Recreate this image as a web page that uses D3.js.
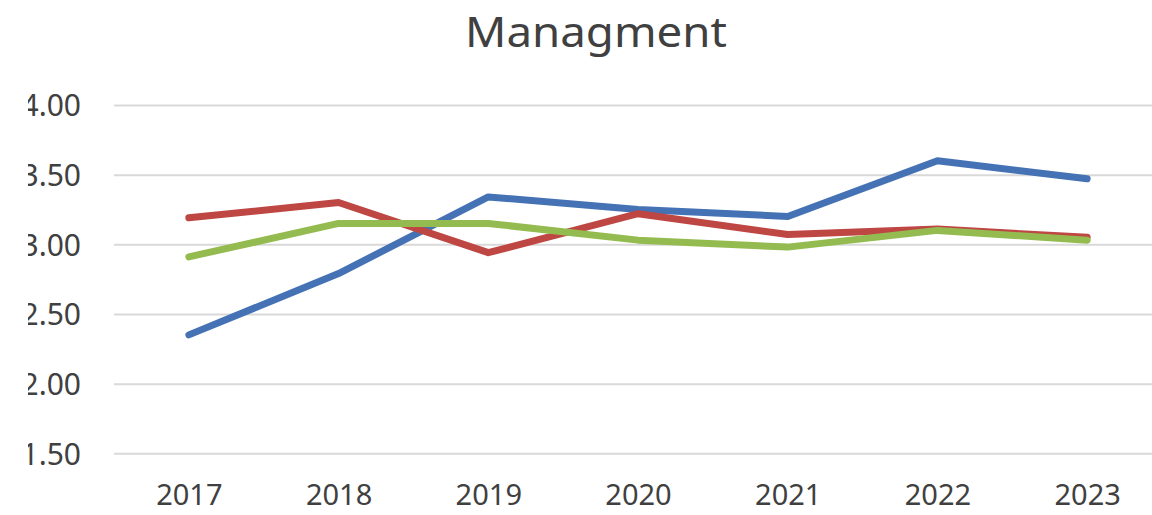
<!DOCTYPE html>
<html>
<head>
<meta charset="utf-8">
<script src="https://cdn.jsdelivr.net/npm/d3@7"></script>
<style>
    body { margin: 0; background: #fff; }
    svg { display: block; }
    text { font-family: "Noto Sans", "Open Sans", sans-serif; fill: #404040; }
</style>
</head>
<body>
<script>
// chart data
const years = ["2017", "2018", "2019", "2020", "2021", "2022", "2023"];
const blueValues = [2.35, 2.79, 3.34, 3.25, 3.20, 3.60, 3.47];
const redValues = [3.19, 3.30, 2.94, 3.22, 3.07, 3.11, 3.05];
const greenValues = [2.91, 3.15, 3.15, 3.03, 2.98, 3.10, 3.03];
const yTicks = [1.5, 2.0, 2.5, 3.0, 3.5, 4.0];
const title = "Managment";

const width = 1152, height = 515;
const plot = { left: 114, right: 1162, top: 105, bottom: 453.3 };

const svg = d3.select("body").append("svg")
    .attr("width", width)
    .attr("height", height);

const xScale = d3.scalePoint()
    .domain(years)
    .range([plot.left, plot.right])
    .padding(0.5);

const yScale = d3.scaleLinear()
    .domain([1.5, 4])
    .range([plot.bottom, plot.top]);

// title
svg.append("text")
    .attr("x", 596)
    .attr("y", 47)
    .attr("text-anchor", "middle")
    .style("font-size", "41px")
    .attr("textLength", 262)
    .attr("lengthAdjust", "spacingAndGlyphs")
    .text(title);

// gridlines
svg.append("g")
    .attr("class", "grid")
    .attr("transform", "translate(" + plot.left + ",0)")
    .call(d3.axisLeft(yScale).tickValues(yTicks).tickSize(-(width - plot.left)).tickFormat(""))
    .call(g => g.select(".domain").remove())
    .call(g => g.selectAll("line").attr("stroke", "#d9d9d9").attr("stroke-width", 2));

// y labels, the left edge is cut off like in the picture
svg.append("clipPath")
    .attr("id", "ylabclip")
    .append("rect")
    .attr("x", 28).attr("y", 0).attr("width", 100).attr("height", height);

const yAxis = svg.append("g")
    .attr("clip-path", "url(#ylabclip)")
    .append("g")
    .attr("transform", "translate(81,0)")
    .call(d3.axisLeft(yScale).tickValues(yTicks).tickSize(0).tickPadding(0).tickFormat(d3.format(".2f")));
yAxis.select(".domain").remove();
yAxis.selectAll("text")
    .attr("font-family", null)
    .style("font-size", "30px")
    .attr("dy", "0.36em");

// x labels
const xAxis = svg.append("g")
    .attr("transform", "translate(0,505)")
    .call(d3.axisBottom(xScale).tickSize(0).tickPadding(0));
xAxis.select(".domain").remove();
xAxis.selectAll("text")
    .attr("font-family", null)
    .attr("y", 0)
    .attr("dy", 0)
    .style("font-size", "29px");

// lines
const series = [
    { values: blueValues, color: "#4472b4" },
    { values: redValues, color: "#be4643" },
    { values: greenValues, color: "#94bb4f" }
];

const line = d3.line()
    .x((d, i) => xScale(years[i]))
    .y(d => yScale(d));

series.forEach(s => {
    svg.append("path")
        .datum(s.values)
        .attr("fill", "none")
        .attr("stroke", s.color)
        .attr("stroke-width", 7)
        .attr("stroke-linecap", "round")
        .attr("stroke-linejoin", "round")
        .attr("d", line);
});
</script>
</body>
</html>
